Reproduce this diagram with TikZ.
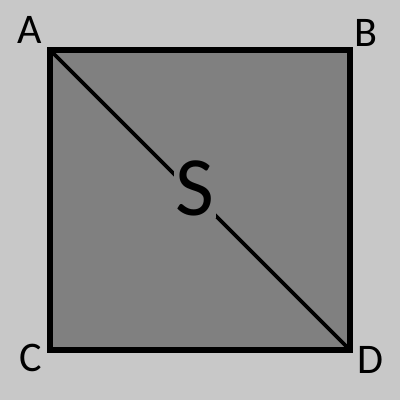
\documentclass[tikz,border=0pt]{standalone}
\usepackage{fontspec}
\setmainfont{Carlito}
\usepackage{tikz}
\usetikzlibrary{positioning}
\definecolor{BackGray}{HTML}{C8C8C8}
\definecolor{SquareGray}{HTML}{808080}

\begin{document}
\begin{tikzpicture}[
    corner/.style={font=\fontsize{30}{30}\selectfont, inner sep=0pt},
    edge/.style={line width=4pt, draw=black},
    diag/.style={line width=2.7pt, draw=black}
]
\fill[BackGray] (0,0) rectangle (10,10);
\coordinate (A) at (1.25,8.75);
\coordinate (B) at (8.75,8.75);
\coordinate (C) at (1.25,1.25);
\coordinate (D) at (8.75,1.25);
\fill[SquareGray] (A) rectangle (D);
\draw[diag] (A) -- (D);
\draw[edge] (A) -- (B) -- (D) -- (C) -- cycle;
\node[fill=SquareGray, inner sep=1pt, font=\fontsize{60}{60}\selectfont] (S) at (4.875,5.28) {S};
\node[corner] (lA) at (0.75,9.25) {A};
\node[corner] (lB) at (9.15,9.18) {B};
\node[corner] (lC) at (0.78,1.05) {C};
\node[corner] (lD) at (9.25,1.0) {D};
\end{tikzpicture}
\end{document}
